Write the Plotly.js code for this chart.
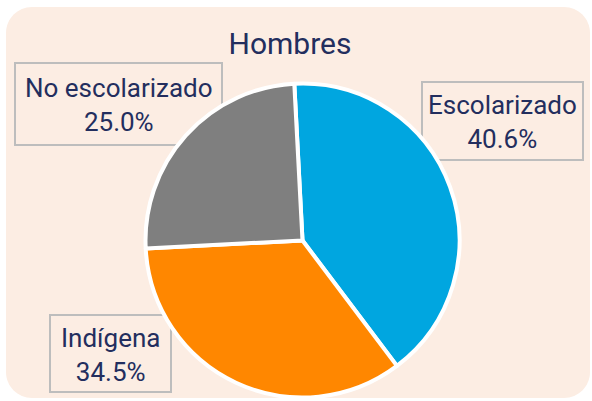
<!DOCTYPE html>
<html>
<head>
<meta charset="utf-8">
<script src="https://cdn.plot.ly/plotly-3.0.1.min.js"></script>
<style>
  html, body { margin: 0; padding: 0; background: #ffffff; }
  #chart { width: 592px; height: 401px; }
</style>
</head>
<body>
<div id="chart"></div>
<script>
// ---- data ----
const chartTitle = "Hombres";
const categories = ["Escolarizado", "Indígena", "No escolarizado"];
const values = [40.6, 34.5, 25.0];
const colors = ["#00A6E0", "#FF8700", "#7F7F7F"];

// ---- layout helpers (pixel -> paper) ----
const W = 592, H = 401;
const px = x => x / W;
const py = y => 1 - y / H;

const textColor = "#232E5E";
const fontFamily = "Roboto, 'Open Sans', sans-serif";

// pie geometry (pixels)
const cx = 302.5, cy = 240.5, R = 157;

// label boxes in pixels [left, top, right, bottom], matched by category
const boxes = {
  "Escolarizado": [422, 82, 583, 160],
  "Indígena": [50, 315, 171, 392],
  "No escolarizado": [15, 63, 222, 145]
};

// rounded background path
function roundedRect(l, t, r, b, rad) {
  const k = 0.5523 * rad;
  const P = (x, y) => px(x) + "," + py(y);
  return "M" + P(l + rad, t) +
    " L" + P(r - rad, t) +
    " C" + P(r - rad + k, t) + " " + P(r, t + rad - k) + " " + P(r, t + rad) +
    " L" + P(r, b - rad) +
    " C" + P(r, b - rad + k) + " " + P(r - rad + k, b) + " " + P(r - rad, b) +
    " L" + P(l + rad, b) +
    " C" + P(l + rad - k, b) + " " + P(l, b - rad + k) + " " + P(l, b - rad) +
    " L" + P(l, t + rad) +
    " C" + P(l, t + rad - k) + " " + P(l + rad - k, t) + " " + P(l + rad, t) + " Z";
}

const shapes = [{
  type: "path", xref: "paper", yref: "paper", layer: "below",
  path: roundedRect(6, 7, 590, 398, 26),
  fillcolor: "#FCEDE3", line: { width: 0 }
}];
const annotations = [];
categories.forEach((c, i) => {
  const b = boxes[c];
  shapes.push({
    type: "rect", xref: "paper", yref: "paper", layer: "below",
    x0: px(b[0]), x1: px(b[2]), y0: py(b[3]), y1: py(b[1]),
    line: { color: "#BDBDBD", width: 2 }, fillcolor: "rgba(0,0,0,0)"
  });
  annotations.push({
    xref: "paper", yref: "paper",
    x: px((b[0] + b[2]) / 2), y: py((b[1] + b[3]) / 2 + 1),
    xanchor: "center", yanchor: "middle",
    text: c + "<br>" + values[i].toFixed(1) + "%",
    showarrow: false, align: "center",
    font: { family: fontFamily, size: 26, color: textColor }
  });
});

const trace = {
  type: "pie",
  labels: categories,
  values: values,
  sort: false,
  direction: "clockwise",
  rotation: -3,
  textinfo: "none",
  hoverinfo: "label+percent",
  marker: { colors: colors, line: { color: "#FFFFFF", width: 4 } },
  domain: { x: [px(cx - R), px(cx + R)], y: [py(cy + R), py(cy - R)] },
  showlegend: false
};

const layout = {
  width: W, height: H,
  margin: { l: 0, r: 0, t: 0, b: 0, pad: 0 },
  paper_bgcolor: "#FFFFFF",
  plot_bgcolor: "rgba(0,0,0,0)",
  showlegend: false,
  title: {
    text: chartTitle,
    x: px(290), xanchor: "center",
    y: py(43), yanchor: "middle", yref: "container",
    font: { family: fontFamily, size: 30, color: textColor }
  },
  shapes: shapes,
  annotations: annotations
};

Plotly.newPlot("chart", [trace], layout, { displayModeBar: false, staticPlot: true });
</script>
</body>
</html>
